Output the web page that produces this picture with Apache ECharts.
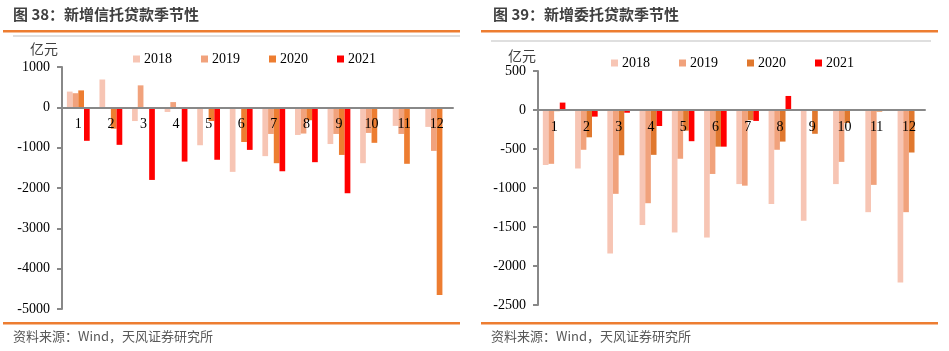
<!DOCTYPE html>
<html>
<head>
<meta charset="utf-8">
<style>
  html, body { margin: 0; padding: 0; background: #fff; }
  #chart { width: 949px; height: 351px; }
</style>
<script src="https://cdn.jsdelivr.net/npm/echarts@6/dist/echarts.min.js"></script>
</head>
<body>
<div id="chart"></div>
<script>
// months
var months = ['1', '2', '3', '4', '5', '6', '7', '8', '9', '10', '11', '12']
var years = ['2018', '2019', '2020', '2021']

// 新增信托贷款 (亿元)
var trust2018 = [390, 690, -340, -115, -940, -1600, -1210, -685, -910, -1385, -460, -485]
var trust2019 = [350, -40, 545, 130, -40, -20, -660, -650, -660, -635, -660, -1080]
var trust2020 = [420, -530, 0, 0, -340, -860, -1385, -320, -1180, -880, -1400, -4650]
var trust2021 = [-830, -930, -1800, -1345, -1300, -1055, -1585, -1360, -2130, null, null, null]

// 新增委托贷款 (亿元)
var entrust2018 = [-705, -750, -1840, -1475, -1570, -1635, -950, -1205, -1420, -950, -1310, -2210]
var entrust2019 = [-690, -510, -1075, -1195, -625, -820, -970, -510, -5, -665, -960, -1310]
var entrust2020 = [-15, -350, -580, -575, -265, -470, -130, -405, -305, -167, -20, -545]
var entrust2021 = [95, -85, -35, -205, -400, -470, -140, 180, -10, null, null, null]

var trustTicks = { min: -5000, max: 1000, interval: 1000 }
var entrustTicks = { min: -2500, max: 500, interval: 500 }

var colorsLeft = ['#F7C5B4', '#F1A27C', '#ED7D31', '#FF0000']
var colorsRight = ['#F7C5B4', '#F1A27C', '#E0782E', '#FF0000']

var serif = 'Liberation Serif'
var cjk = 'Noto Sans CJK SC'

function makeAxes (idx, ticks) {
  var x = {
    type: 'category',
    gridIndex: idx,
    data: months,
    position: 'bottom',
    offset: 0,
    z: 5,
    axisLine: { show: true, onZero: false, lineStyle: { color: '#888', width: 2 } },
    axisTick: { show: false },
    axisLabel: { fontFamily: serif, fontSize: 14, color: '#000', margin: 10, interval: 0 }
  }
  var y = {
    type: 'value',
    gridIndex: idx,
    min: ticks.min,
    max: ticks.max,
    interval: ticks.interval,
    splitLine: { show: false },
    axisLine: { show: true, onZero: false, lineStyle: { color: '#888', width: 2 } },
    axisTick: { show: true, length: 5, lineStyle: { color: '#888', width: 2 } },
    axisLabel: {
      fontFamily: serif, fontSize: 14, color: '#000', margin: 12,
      formatter: function (v) { return String(v) }
    }
  }
  return [x, y]
}

function makeSeries (idx, dataList, colors) {
  return dataList.map(function (d, i) {
    return {
      name: years[i],
      type: 'bar',
      xAxisIndex: idx,
      yAxisIndex: idx,
      data: d,
      barGap: '0%',
      barCategoryGap: '30%',
      itemStyle: { color: colors[i] },
      animation: false
    }
  })
}

function makeLegend (left, top, colors) {
  return {
    left: left,
    top: top,
    itemWidth: 7,
    itemHeight: 7,
    itemGap: 29,
    icon: 'rect',
    data: years.map(function (y, i) { return { name: y, itemStyle: { color: colors[i] } } }),
    textStyle: { fontFamily: serif, fontSize: 14, color: '#000', padding: [0, 0, 0, -1] },
    selectedMode: false
  }
}

var leftAxes = makeAxes(0, trustTicks)
var rightAxes = makeAxes(1, entrustTicks)

var options = {
  backgroundColor: '#fff',
  animation: false,
  grid: [
    { left: 62, right: 496, top: 67, bottom: 42 },
    { left: 538, right: 24, top: 71, bottom: 46 }
  ],
  xAxis: [leftAxes[0], rightAxes[0]],
  yAxis: [leftAxes[1], rightAxes[1]],
  legend: [makeLegend(128, 47, colorsLeft), makeLegend(606, 51, colorsRight)],
  series: makeSeries(0, [trust2018, trust2019, trust2020, trust2021], colorsLeft)
    .concat(makeSeries(1, [entrust2018, entrust2019, entrust2020, entrust2021], colorsRight)),
  graphic: [
    { type: 'text', left: 13, top: 7, style: { text: '图 38：新增信托贷款季节性', font: 'bold 15px "' + cjk + '"', fill: '#404040' } },
    { type: 'text', left: 493, top: 7, style: { text: '图 39：新增委托贷款季节性', font: 'bold 15px "' + cjk + '"', fill: '#404040' } },
    { type: 'rect', shape: { x: 3, y: 30, width: 457, height: 2.5 }, style: { fill: '#ED7D31' } },
    { type: 'rect', shape: { x: 481, y: 30, width: 457, height: 2.5 }, style: { fill: '#ED7D31' } },
    { type: 'rect', shape: { x: 13, y: 35.5, width: 447, height: 1 }, style: { fill: '#BFBFBF' } },
    { type: 'rect', shape: { x: 491, y: 40.5, width: 440, height: 1 }, style: { fill: '#BFBFBF' } },
    { type: 'text', left: 30, top: 42, style: { text: '亿元', font: '14px "' + cjk + '"', fill: '#404040' } },
    { type: 'text', left: 508, top: 49, style: { text: '亿元', font: '14px "' + cjk + '"', fill: '#404040' } },
    { type: 'rect', shape: { x: 3, y: 322, width: 457, height: 2.5 }, style: { fill: '#ED7D31' } },
    { type: 'rect', shape: { x: 481, y: 322, width: 457, height: 2.5 }, style: { fill: '#ED7D31' } },
    { type: 'text', left: 13, top: 330, style: { text: '资料来源：Wind，天风证券研究所', font: '13px "' + cjk + '"', fill: '#595959' } },
    { type: 'text', left: 491, top: 330, style: { text: '资料来源：Wind，天风证券研究所', font: '13px "' + cjk + '"', fill: '#595959' } }
  ]
}

var chart = echarts.init(document.getElementById('chart'))
chart.setOption(options)

// move each category axis (line + labels) up to the value axis zero
var tickSets = [trustTicks, entrustTicks]
var xOffsets = tickSets.map(function (t, i) {
  var zeroPx = chart.convertToPixel({ yAxisIndex: i }, 0)
  var minPx = chart.convertToPixel({ yAxisIndex: i }, t.min)
  return { offset: zeroPx - minPx }
})
chart.setOption({ xAxis: xOffsets })
</script>
</body>
</html>
